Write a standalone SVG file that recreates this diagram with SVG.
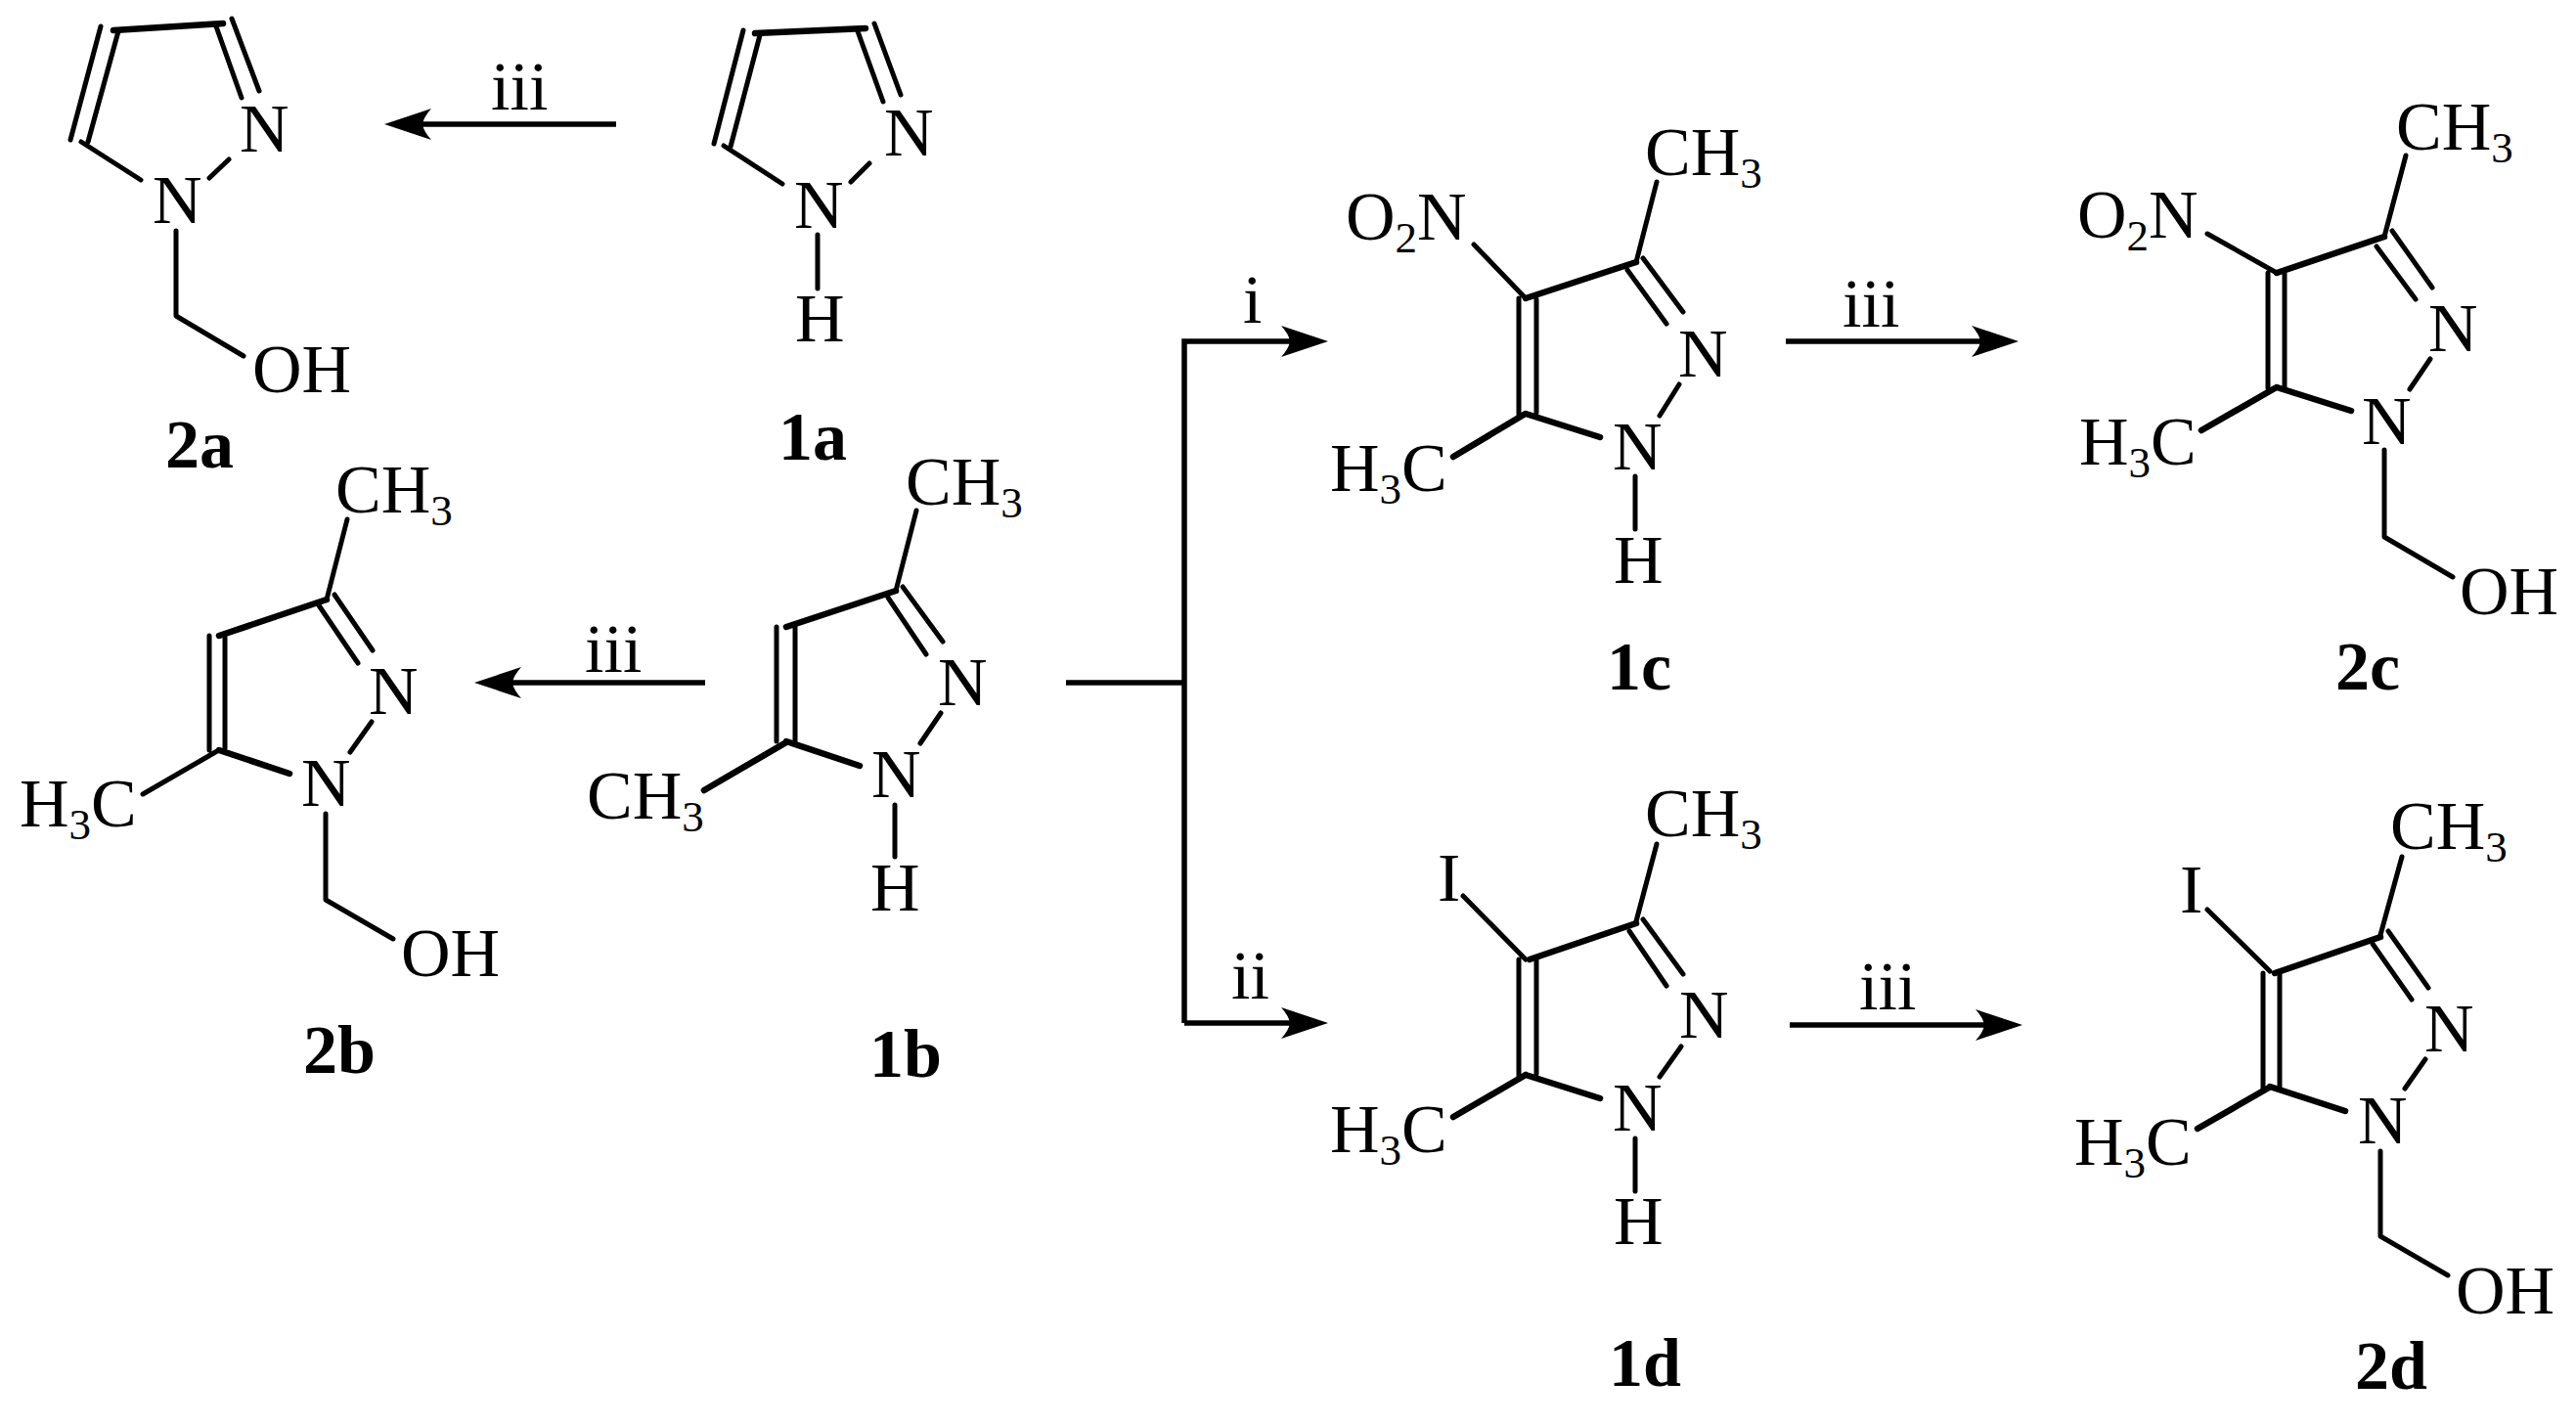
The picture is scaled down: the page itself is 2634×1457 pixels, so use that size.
<svg xmlns="http://www.w3.org/2000/svg" width="2634" height="1457" viewBox="0 0 2634 1457">
<style>
text{font-family:"Liberation Serif","Times New Roman",serif;font-size:70px;fill:#000}
.sub{font-size:45px}
.lab{font-weight:bold}
.b{fill:none;stroke:#000;stroke-width:5;stroke-linecap:round;stroke-linejoin:round}
.h{fill:none;stroke:#000;stroke-width:6.5;stroke-linecap:round}
.c{fill:none;stroke:#000;stroke-width:5.5}
</style>
<defs>
<marker id="ah" markerUnits="userSpaceOnUse" viewBox="0 0 48 32" refX="28" refY="16" markerWidth="48" markerHeight="32" orient="auto">
<path d="M48,16 L0,0 Q8,9 9,16 Q8,23 0,32 Z" fill="#000"/>
</marker>
</defs>
<rect width="2634" height="1457" fill="#fff"/>
<g id="connectors">
<path class="c" marker-end="url(#ah)" d="M630,127H413"/>
<path class="c" marker-end="url(#ah)" d="M721,698H505"/>
<path class="c" d="M1090,698H1211"/>
<path class="c" marker-end="url(#ah)" d="M1211,1046V349H1338"/>
<path class="c" marker-end="url(#ah)" d="M1211,1046H1338"/>
<path class="c" marker-end="url(#ah)" d="M1826,349H2044"/>
<path class="c" marker-end="url(#ah)" d="M1830,1048H2048"/>
<text x="502" y="112">iii</text>
<text x="598" y="687">iii</text>
<text x="1271" y="330">i</text>
<text x="1259" y="1021">ii</text>
<text x="1884" y="334">iii</text>
<text x="1901" y="1032">iii</text>
</g>
<g id="n2a">
<path class="h" d="M116,31L228,24"/>
<path class="b" d="M103,27L72,143M121,32L90,145M83,145L144,184M221,27L247,100M237,19L265,93M234,163L214,182M180,236V323L249,364"/>
<text x="245" y="155">N</text><text x="156" y="228">N</text><text x="258" y="401">OH</text>
<text class="lab" x="169" y="478">2a</text>
</g>
<g id="n1a">
<path class="h" d="M772,34L885,29"/>
<path class="b" d="M760,31L730,147M777,36L747,150M740,149L800,188M877,32L903,104M894,24L921,97M889,167L870,186M836,240V295"/>
<text x="904" y="159">N</text><text x="812" y="233">N</text><text x="813" y="349">H</text>
<text class="lab" x="796" y="470">1a</text>
</g>
<g id="n2b">
<path class="h" d="M334,613L224,650M224,767L296,791"/>
<path class="b" d="M355,531L334,613M214,650V767M230,650V765M326,619L366,678M342,608L381,665M380,738L358,769M222,768L146,812M333,832V920L402,960"/>
<text x="343" y="524">CH<tspan class="sub" dy="13">3</tspan></text>
<text x="377" y="730">N</text><text x="308" y="824">N</text>
<text x="20" y="845">H<tspan class="sub" dy="13">3</tspan><tspan dy="-13">C</tspan></text>
<text x="410" y="998">OH</text>
<text class="lab" x="310" y="1097">2b</text>
</g>
<g id="n1b">
<path class="h" d="M916,604L804,641M804,758L879,783M804,759L720,808"/>
<path class="b" d="M937,522L916,604M794,641V758M813,641V758M908,611L947,669M923,600L964,656M962,729L941,760M915,823V876"/>
<text x="926" y="516">CH<tspan class="sub" dy="13">3</tspan></text>
<text x="600" y="837">CH<tspan class="sub" dy="13">3</tspan></text>
<text x="959" y="721">N</text><text x="891" y="815">N</text><text x="890" y="931">H</text>
<text class="lab" x="889" y="1101">1b</text>
</g>
<g id="n1c">
<path class="h" d="M1673,268L1560,305M1560,423L1636,447M1558,424L1486,467"/>
<path class="b" d="M1694,186L1673,268M1507,250L1560,305M1553,305V424M1571,306V422M1664,276L1704,331M1680,264L1721,319M1717,393L1697,425M1672,487V541"/>
<text x="1682" y="179">CH<tspan class="sub" dy="13">3</tspan></text>
<text x="1376" y="245">O<tspan class="sub" dy="13">2</tspan><tspan dy="-13">N</tspan></text>
<text x="1716" y="385">N</text><text x="1649" y="480">N</text>
<text x="1360" y="502">H<tspan class="sub" dy="13">3</tspan><tspan dy="-13">C</tspan></text>
<text x="1650" y="596">H</text>
<text class="lab" x="1643" y="705">1c</text>
</g>
<g id="n2c">
<path class="h" d="M2438,242L2328,279M2328,396L2404,420M2326,397L2251,440"/>
<path class="b" d="M2460,159L2438,242M2257,239L2328,279M2319,279V397M2336,280V396M2430,252L2470,306M2446,236L2487,294M2485,367L2464,398M2438,460V549L2508,590"/>
<text x="2450" y="153">CH<tspan class="sub" dy="13">3</tspan></text>
<text x="2124" y="243">O<tspan class="sub" dy="13">2</tspan><tspan dy="-13">N</tspan></text>
<text x="2483" y="359">N</text><text x="2415" y="454">N</text>
<text x="2126" y="475">H<tspan class="sub" dy="13">3</tspan><tspan dy="-13">C</tspan></text>
<text x="2515" y="628">OH</text>
<text class="lab" x="2388" y="705">2c</text>
</g>
<g id="n1d">
<path class="h" d="M1673,944L1564,981M1560,1099L1636,1123M1560,1099L1486,1142"/>
<path class="b" d="M1694,863L1673,942M1496,916L1560,981M1553,981V1100M1571,981V1098M1666,952L1704,1008M1680,940L1721,996M1719,1070L1697,1101M1672,1164V1218"/>
<text x="1682" y="855">CH<tspan class="sub" dy="13">3</tspan></text>
<text x="1470" y="921">I</text>
<text x="1717" y="1061">N</text><text x="1649" y="1156">N</text>
<text x="1360" y="1178">H<tspan class="sub" dy="13">3</tspan><tspan dy="-13">C</tspan></text>
<text x="1650" y="1272">H</text>
<text class="lab" x="1645" y="1417">1d</text>
</g>
<g id="n2d">
<path class="h" d="M2434,958L2326,995M2321,1111L2398,1136M2320,1112L2247,1154"/>
<path class="b" d="M2456,876L2434,956M2257,930L2321,993M2314,995V1113M2331,995V1111M2426,965L2466,1022M2442,952L2483,1010M2480,1083L2459,1113M2434,1177V1264L2503,1304"/>
<text x="2444" y="868">CH<tspan class="sub" dy="13">3</tspan></text>
<text x="2229" y="933">I</text>
<text x="2479" y="1075">N</text><text x="2411" y="1169">N</text>
<text x="2121" y="1191">H<tspan class="sub" dy="13">3</tspan><tspan dy="-13">C</tspan></text>
<text x="2511" y="1343">OH</text>
<text class="lab" x="2408" y="1420">2d</text>
</g>
</svg>
